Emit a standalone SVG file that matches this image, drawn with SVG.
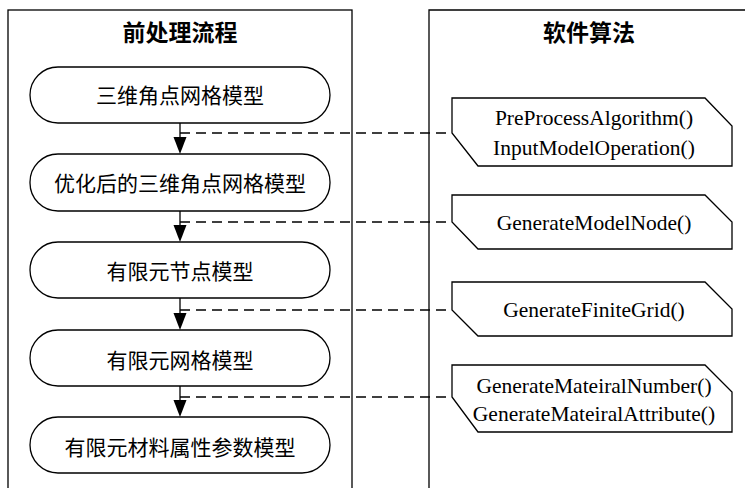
<svg xmlns="http://www.w3.org/2000/svg" width="745" height="488" viewBox="0 0 745 488">
  <style>
    .frame { fill: none; stroke: #000; stroke-width: 1.3; }
    .pill { fill: #fff; stroke: #000; stroke-width: 1.3; }
    .tag { fill: #fff; stroke: #000; stroke-width: 1.3; stroke-linejoin: miter; }
    .title { font-family: "Noto Sans CJK SC", "Noto Sans", sans-serif; font-size: 23px; font-weight: bold; text-anchor: middle; fill: #000; }
    .cn { font-family: "Noto Sans CJK SC", "Noto Sans", sans-serif; font-size: 21px; text-anchor: middle; fill: #000; }
    .fn { font-family: "Liberation Serif", "Times New Roman", serif; font-size: 21.5px; text-anchor: middle; fill: #000; }
    .flow { stroke: #000; stroke-width: 1.3; fill: none; }
    .link { stroke: #000; stroke-width: 1.3; fill: none; stroke-dasharray: 10 6; }
  </style>
  <defs>
    <marker id="arrow" viewBox="0 0 13 16" refX="6.5" refY="16" markerWidth="13" markerHeight="16" markerUnits="userSpaceOnUse" orient="auto-start-reverse">
      <path d="M0,0 L13,0 L6.5,16 Z" fill="#000"/>
    </marker>
  </defs>
  <rect width="745" height="488" fill="#fff"/>

  <!-- swimlanes -->
  <g id="lane-preprocess">
    <rect class="frame" x="8" y="10" width="344" height="500"/>
    <text class="title" x="180" y="41">前处理流程</text>
  </g>
  <g id="lane-algorithm">
    <polyline class="frame" points="429,500 429,10 750,10"/>
    <text class="title" x="589" y="41">软件算法</text>
  </g>

  <!-- connectors: solid flow arrows and dashed links to algorithms -->
  <g id="connectors">
    <line class="flow" x1="180" y1="123" x2="180" y2="137"/>
    <path d="M173.5,137 L186.5,137 L180,154 Z" fill="#000"/>
    <line class="flow" x1="180" y1="211" x2="180" y2="225"/>
    <path d="M173.5,225 L186.5,225 L180,242 Z" fill="#000"/>
    <line class="flow" x1="180" y1="298" x2="180" y2="313"/>
    <path d="M173.5,313 L186.5,313 L180,330 Z" fill="#000"/>
    <line class="flow" x1="180" y1="386" x2="180" y2="400"/>
    <path d="M173.5,400 L186.5,400 L180,417 Z" fill="#000"/>

    <line class="link" x1="180" y1="133" x2="452" y2="133"/>
    <line class="link" x1="180" y1="222" x2="452" y2="222"/>
    <line class="link" x1="180" y1="310" x2="452" y2="310"/>
    <line class="link" x1="180" y1="397" x2="452" y2="397"/>
  </g>

  <!-- process steps -->
  <g id="step1">
    <rect class="pill" x="30" y="67" width="300" height="56" rx="28" ry="28"/>
    <text class="cn" x="180" y="103">三维角点网格模型</text>
  </g>
  <g id="step2">
    <rect class="pill" x="30" y="154" width="300" height="57" rx="28" ry="28"/>
    <text class="cn" x="180" y="191">优化后的三维角点网格模型</text>
  </g>
  <g id="step3">
    <rect class="pill" x="30" y="242" width="300" height="56" rx="28" ry="28"/>
    <text class="cn" x="180" y="279">有限元节点模型</text>
  </g>
  <g id="step4">
    <rect class="pill" x="30" y="330" width="300" height="56" rx="28" ry="28"/>
    <text class="cn" x="180" y="368">有限元网格模型</text>
  </g>
  <g id="step5">
    <rect class="pill" x="30" y="417" width="300" height="56" rx="28" ry="28"/>
    <text class="cn" x="180" y="455">有限元材料属性参数模型</text>
  </g>

  <!-- algorithm tags -->
  <g id="algo1">
    <polygon class="tag" points="452,98 705,98 732,126 732,166 478,166 452,133"/>
    <text class="fn" x="594" y="125">PreProcessAlgorithm()</text>
    <text class="fn" x="594" y="155">InputModelOperation()</text>
  </g>
  <g id="algo2">
    <polygon class="tag" points="452,195 705,195 732,222 732,249 478,249 452,222"/>
    <text class="fn" x="594" y="230">GenerateModelNode()</text>
  </g>
  <g id="algo3">
    <polygon class="tag" points="452,282 705,282 732,309 732,336 478,336 452,310"/>
    <text class="fn" x="594" y="317">GenerateFiniteGrid()</text>
  </g>
  <g id="algo4">
    <polygon class="tag" points="452,365 705,365 732,392 732,432 478,432 452,397"/>
    <text class="fn" x="594" y="393">GenerateMateiralNumber()</text>
    <text class="fn" x="594" y="421">GenerateMateiralAttribute()</text>
  </g>
</svg>
